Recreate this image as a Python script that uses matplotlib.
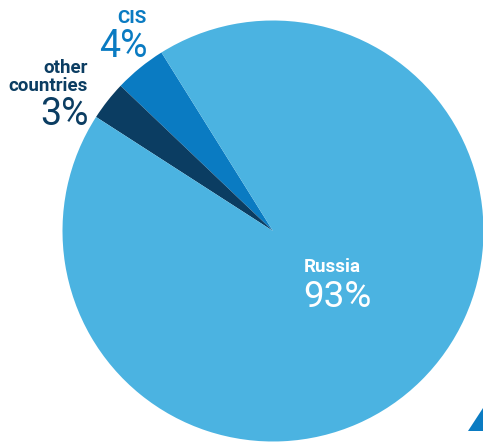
import matplotlib as mpl
mpl.use('Agg')
import matplotlib.pyplot as plt
from matplotlib.patches import Polygon

labels = ["CIS", "other\ncountries", "Russia"]
shares = [4, 3, 93]
colors = ['#0a7bc2', '#0b3d62', '#4bb3e1']

plt.rcParams['font.family'] = ['Roboto', 'DejaVu Sans']

W, H = 483, 444
fig = plt.figure(figsize=(W / 100, H / 100), dpi=100)
ax = fig.add_axes([0, 0, 1, 1])

# pie in pixel-like coordinates (y up)
ax.pie(shares, colors=colors, startangle=122, counterclock=True,
       center=(273, H - 231), radius=210.5,
       wedgeprops=dict(linewidth=0))
ax.set_xlim(0, W)
ax.set_ylim(0, H)
ax.set_aspect('auto')
ax.axis('off')

# small corner triangle
ax.add_patch(Polygon([(468, H - 431), (483, H - 431), (483, H - 408)],
                     closed=True, color='#0a7bc2', lw=0))

# CIS
ax.text(147, H - 23, labels[0], ha='right', va='baseline', fontsize=13.5,
        fontweight='bold', color=colors[0])
ax.text(148, H - 57, f"{shares[0]}%", ha='right', va='baseline', fontsize=27,
        color=colors[0])

# other countries
ax.text(88, H - 91, labels[1], ha='right', va='baseline', fontsize=13.5,
        fontweight='bold', color=colors[1], linespacing=1.0)
ax.text(89, H - 125, f"{shares[1]}%", ha='right', va='baseline', fontsize=27,
        color=colors[1])

# Russia
ax.text(304, H - 272, labels[2], ha='left', va='baseline', fontsize=13.5,
        fontweight='bold', color='white')
ax.text(303, H - 307, f"{shares[2]}%", ha='left', va='baseline', fontsize=26.5,
        color='white')

fig.savefig('out.png', dpi=100)
